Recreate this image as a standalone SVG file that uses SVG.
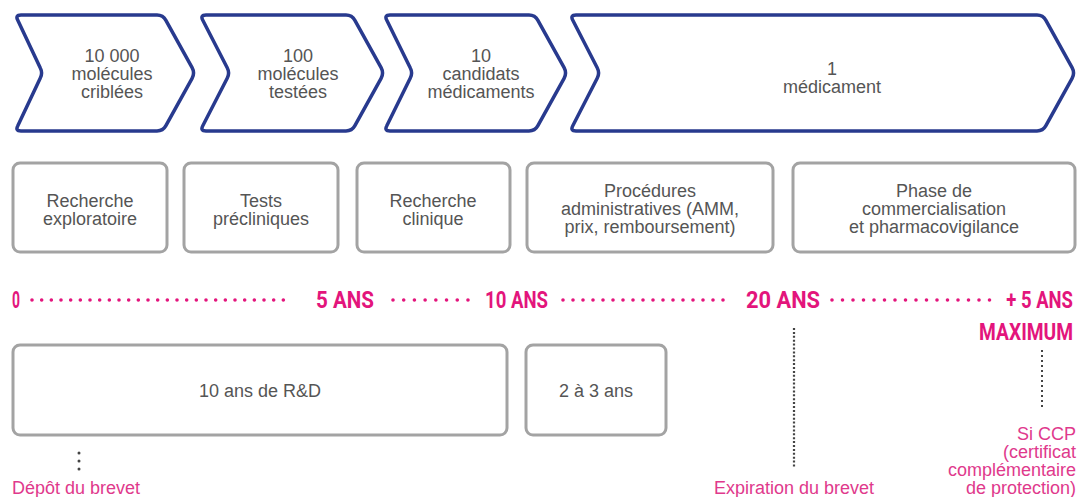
<svg xmlns="http://www.w3.org/2000/svg" width="1080" height="497" viewBox="0 0 1080 497">
<style>
.chev{fill:#fff;stroke:#283a8e;stroke-width:3.5;stroke-linejoin:round}
.box{fill:#fff;stroke:#a3a3a3;stroke-width:3}
.t{font-family:"Liberation Sans",Arial,sans-serif;font-size:18px;fill:#555;text-anchor:middle}
.tl{font-family:Roboto,"Liberation Sans",sans-serif;font-weight:700;fill:#e3157c}
.pk{font-family:"Liberation Sans",Arial,sans-serif;font-size:18px;fill:#e0398c}
.dots{stroke:#e3157c;stroke-width:3.6;stroke-linecap:round;fill:none}
.vd{stroke:#444;fill:none}
</style>
<rect width="1080" height="497" fill="#fff"/>
<g id="chevron-1">
<path class="chev" d="M21,15 H157 Q163,15 165.9,20.3 L192.1,67.7 Q195,73 192.1,78.3 L165.9,125.7 Q163,131 157,131 H21 Q15,131 17.8,125.7 L40.2,78.3 Q43,73 40.2,67.7 L17.8,20.3 Q15,15 21,15 Z"/>
<text class="t" x="112"><tspan x="112" y="62">10 000</tspan><tspan x="112" y="80">molécules</tspan><tspan x="112" y="98">criblées</tspan></text>
</g>
<g id="chevron-2">
<path class="chev" d="M206,15 H346 Q352,15 354.9,20.3 L381.1,67.7 Q384,73 381.1,78.3 L354.9,125.7 Q352,131 346,131 H206 Q200,131 202.8,125.7 L227.2,78.3 Q230,73 227.2,67.7 L202.8,20.3 Q200,15 206,15 Z"/>
<text class="t" x="298"><tspan x="298" y="62">100</tspan><tspan x="298" y="80">molécules</tspan><tspan x="298" y="98">testées</tspan></text>
</g>
<g id="chevron-3">
<path class="chev" d="M390,15 H529 Q535,15 537.9,20.3 L564.1,67.7 Q567,73 564.1,78.3 L537.9,125.7 Q535,131 529,131 H390 Q384,131 386.8,125.7 L410.2,78.3 Q413,73 410.2,67.7 L386.8,20.3 Q384,15 390,15 Z"/>
<text class="t" x="481"><tspan x="481" y="62">10</tspan><tspan x="481" y="80">candidats</tspan><tspan x="481" y="98">médicaments</tspan></text>
</g>
<g id="chevron-4">
<path class="chev" d="M576,15 H1037 Q1043,15 1045.9,20.3 L1072.1,67.7 Q1075,73 1072.1,78.3 L1045.9,125.7 Q1043,131 1037,131 H576 Q570,131 572.8,125.7 L597.2,78.3 Q600,73 597.2,67.7 L572.8,20.3 Q570,15 576,15 Z"/>
<text class="t" x="832"><tspan x="832" y="75">1</tspan><tspan x="832" y="93">médicament</tspan></text>
</g>
<g id="phase-1">
<rect class="box" x="13" y="163" width="154" height="89" rx="7"/>
<text class="t"><tspan x="90" y="206.5">Recherche</tspan><tspan x="90" y="225">exploratoire</tspan></text>
</g>
<g id="phase-2">
<rect class="box" x="184" y="163" width="154" height="89" rx="7"/>
<text class="t"><tspan x="261" y="206.5">Tests</tspan><tspan x="261" y="225">précliniques</tspan></text>
</g>
<g id="phase-3">
<rect class="box" x="357" y="163" width="153" height="89" rx="7"/>
<text class="t"><tspan x="433" y="206.5">Recherche</tspan><tspan x="433" y="225">clinique</tspan></text>
</g>
<g id="phase-4">
<rect class="box" x="527" y="163" width="246" height="89" rx="7"/>
<text class="t"><tspan x="650" y="197">Procédures</tspan><tspan x="650" y="215">administratives (AMM,</tspan><tspan x="650" y="233">prix, remboursement)</tspan></text>
</g>
<g id="phase-5">
<rect class="box" x="793" y="163" width="282" height="89" rx="7"/>
<text class="t"><tspan x="934" y="197">Phase de</tspan><tspan x="934" y="215">commercialisation</tspan><tspan x="934" y="233">et pharmacovigilance</tspan></text>
</g>
<g id="timeline-labels">
<text class="tl" x="12" y="308" font-size="23" textLength="8" lengthAdjust="spacingAndGlyphs">0</text>
<text class="tl" x="316" y="308" font-size="23" textLength="58" lengthAdjust="spacingAndGlyphs">5 ANS</text>
<text class="tl" x="485" y="308" font-size="24" textLength="63" lengthAdjust="spacingAndGlyphs">10 ANS</text>
<text class="tl" x="746" y="308" font-size="24" textLength="74" lengthAdjust="spacingAndGlyphs">20 ANS</text>
<text class="tl" font-size="24" text-anchor="end" transform="translate(1073,308) scale(0.77,1)">+ 5 ANS</text>
<text class="tl" font-size="24" text-anchor="end" transform="translate(1073,340) scale(0.8,1)">MAXIMUM</text>
</g>
<g id="duration-rd">
<rect class="box" x="13" y="345" width="494" height="90" rx="7"/>
<text class="t" x="260" y="397">10 ans de R&amp;D</text>
</g>
<g id="duration-admin">
<rect class="box" x="526" y="345" width="140" height="90" rx="7"/>
<text class="t" x="596" y="397">2 à 3 ans</text>
</g>
<g id="note-depot">
<text class="pk" x="12" y="494">Dépôt du brevet</text>
</g>
<g id="note-expiration">
<text class="pk" x="794" y="494" text-anchor="middle">Expiration du brevet</text>
</g>
<g id="note-ccp">
<text class="pk" text-anchor="end" font-size="17"><tspan x="1076" y="439.5">Si CCP</tspan><tspan x="1076" y="457.5">(certificat</tspan><tspan x="1076" y="475.5">complémentaire</tspan><tspan x="1076" y="493.5">de protection)</tspan></text>
</g>
<g id="connectors">
<line class="dots" x1="32" y1="300" x2="293" y2="300" stroke-dasharray="0 9.667"/>
<line class="dots" x1="393" y1="300" x2="468" y2="300" stroke-dasharray="0 10.71"/>
<line class="dots" x1="563" y1="300" x2="733" y2="300" stroke-dasharray="0 10"/>
<line class="dots" x1="832" y1="300" x2="1000" y2="300" stroke-dasharray="0 10.5"/>
<line class="vd" x1="79" y1="453" x2="79" y2="470" stroke-width="3" stroke-linecap="round" stroke-dasharray="0 8"/>
<line class="vd" x1="794" y1="328" x2="794" y2="468" stroke-width="2.2" stroke-dasharray="2 1.9"/>
<line class="vd" x1="1042" y1="350" x2="1042" y2="410" stroke-width="2" stroke-dasharray="2 3"/>
</g>
</svg>
